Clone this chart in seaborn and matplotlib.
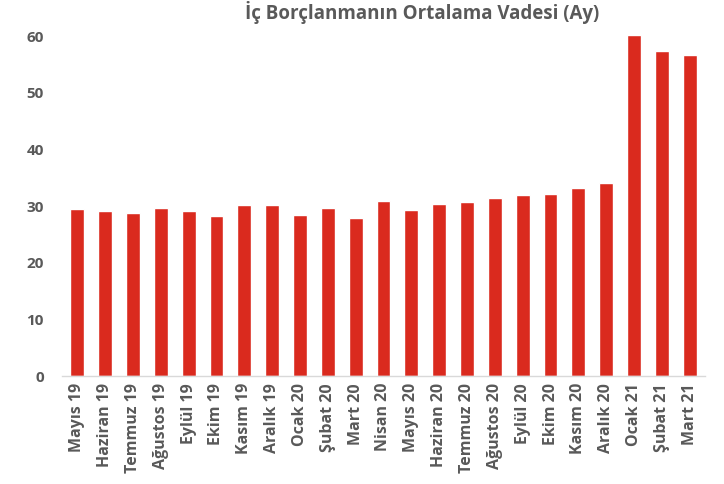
import pandas as pd
import matplotlib
matplotlib.use("Agg")
import matplotlib.pyplot as plt
import seaborn as sns

# Data
months = ["Mayıs 19", "Haziran 19", "Temmuz 19", "Ağustos 19", "Eylül 19", "Ekim 19",
          "Kasım 19", "Aralık 19", "Ocak 20", "Şubat 20", "Mart 20", "Nisan 20",
          "Mayıs 20", "Haziran 20", "Temmuz 20", "Ağustos 20", "Eylül 20", "Ekim 20",
          "Kasım 20", "Aralık 20", "Ocak 21", "Şubat 21", "Mart 21"]
maturity = [29.5, 29.1, 28.8, 29.6, 29.1, 28.2,
            30.2, 30.1, 28.4, 29.6, 27.9, 30.9,
            29.3, 30.4, 30.7, 31.4, 32.0, 32.1,
            33.2, 34.0, 60.2, 57.4, 56.6]
yticks = [0, 10, 20, 30, 40, 50, 60]

sns.set_theme(style="white")
plt.rcParams["font.family"] = ["Open Sans", "DejaVu Sans"]

df = pd.DataFrame({"Ay": months, "Vade": maturity})

fig = plt.figure(figsize=(7.24, 4.84), dpi=100)
ax = fig.add_axes([62 / 724, 1 - 376 / 484, (705 - 62) / 724, (376 - 36) / 484])

sns.barplot(data=df, x="Ay", y="Vade", color="#da2a1e", width=0.5, saturation=1, ax=ax)
for p in ax.patches:
    p.set_clip_on(False)

gray = "#595959"
ax.set_ylim(0, 60)
ax.set_xlim(-0.55, len(months) - 0.45)
ax.set_yticks(yticks)
ax.set_yticklabels([str(t) for t in yticks], fontsize=11, fontweight="bold", color=gray)
ax.set_xticks(range(len(months)))
ax.set_xticklabels(months, rotation=90, fontsize=11.5, fontweight="bold", color=gray)
ax.tick_params(axis="both", length=0)
ax.tick_params(axis="y", pad=13)
ax.tick_params(axis="x", pad=5)
ax.set_xlabel("")
ax.set_ylabel("")

for s in ["top", "right", "left"]:
    ax.spines[s].set_visible(False)
ax.spines["bottom"].set_color("#d9d9d9")
ax.spines["bottom"].set_linewidth(1)

fig.text(422 / 724, 1 - 13 / 484, "İç Borçlanmanın Ortalama Vadesi (Ay)", ha="center", va="center",
         fontsize=13.5, fontweight="bold", color=gray)

fig.savefig("out.png", dpi=100)
